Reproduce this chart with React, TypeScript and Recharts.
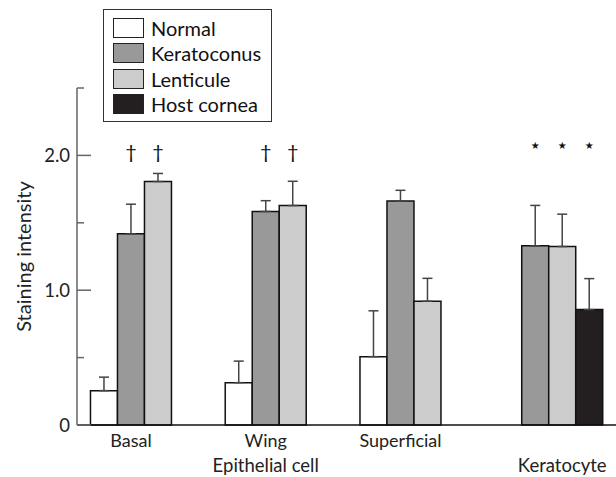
import React from 'react';
import { BarChart, Bar, XAxis, YAxis, ErrorBar, LabelList, Legend } from 'recharts';

// ---- data ----
const categories = ['Basal', 'Wing', 'Superficial', 'Keratocyte'];
const tickLabels = ['Basal', 'Wing', 'Superficial', ''];
const groupLabels = ['', 'Epithelial cell', '', 'Keratocyte'];

const normalValues = [0.255, 0.314, 0.507, null];
const normalErrors = [0.1, 0.16, 0.34, null];
const keratoconusValues = [1.418, 1.584, 1.661, 1.329];
const keratoconusErrors = [0.22, 0.08, 0.08, 0.3];
const lenticuleValues = [1.806, 1.628, 0.918, 1.324];
const lenticuleErrors = [0.06, 0.18, 0.17, 0.24];
const hostValues = [null, null, null, 0.856];
const hostErrors = [null, null, null, 0.23];

const normalMarks = ['', '', '', ''];
const keratoconusMarks = ['†', '†', '', '★'];
const lenticuleMarks = ['†', '†', '', '★'];
const hostMarks = ['', '', '', '★'];
const markLevels: Record<string, number> = { '†': 2.03, '★': 2.07 };

const yTicks = [0, 0.5, 1, 1.5, 2, 2.5];
const yTickLabels = ['0', '', '1.0', '', '2.0', ''];
const yLabel = 'Staining intensity';

// ---- series config ----
const series = [
  { key: 'normal', name: 'Normal', values: normalValues, errors: normalErrors, marks: normalMarks, fill: '#ffffff' },
  { key: 'keratoconus', name: 'Keratoconus', values: keratoconusValues, errors: keratoconusErrors, marks: keratoconusMarks, fill: '#999999' },
  { key: 'lenticule', name: 'Lenticule', values: lenticuleValues, errors: lenticuleErrors, marks: lenticuleMarks, fill: '#cccccc' },
  { key: 'host', name: 'Host cornea', values: hostValues, errors: hostErrors, marks: hostMarks, fill: '#231f20' },
];

const data = categories.map((c, i) => {
  const row: any = { category: c };
  series.forEach((s) => {
    row[s.key] = s.values[i];
    row[s.key + 'Err'] = s.errors[i] == null ? null : [0, s.errors[i]];
  });
  return row;
});

const FONT = "Lato, 'DejaVu Sans', sans-serif";

const makeLabelContent = (sIdx: number) => (props: any) => {
  const s = series[sIdx];
  const raw = props.value;
  let index = s.values.findIndex((v) => v != null && v === raw);
  if (index < 0) index = props.index;
  const vb = props.viewBox || props;
  const { x, y, width, height } = vb;
  if (x == null || index == null || index < 0) return null;
  const value = s.values[index];
  const cx = x + width / 2;
  const base = y + height;
  const els: any[] = [];
  if (value != null && value > 0) {
    const ppu = height / value;
    const mark = s.marks[index];
    if (mark) {
      const isStar = mark === '★';
      els.push(
        <text key="m" x={cx} y={base - markLevels[mark] * ppu} textAnchor="middle" dominantBaseline="central"
          fontSize={isStar ? 10 : 20} fontFamily={isStar ? "'DejaVu Sans', sans-serif" : FONT} fill="#111">
          {mark}
        </text>
      );
    }
  }
  const present = series.filter((t) => t.values[index] != null);
  const mid = present[Math.floor(present.length / 2)];
  if (mid && mid.key === s.key) {
    if (tickLabels[index]) {
      els.push(
        <text key="t" x={cx} y={base + 22} textAnchor="middle" fontSize={18} fontFamily={FONT} fill="#222">
          {tickLabels[index]}
        </text>
      );
    }
    if (groupLabels[index]) {
      els.push(
        <text key="g" x={cx} y={base + 47} textAnchor="middle" fontSize={18.5} fontFamily={FONT} fill="#222">
          {groupLabels[index]}
        </text>
      );
    }
  }
  return <g>{els}</g>;
};

const YTick = (props: any) => {
  const { x, y, payload } = props;
  const v = payload.value;
  const i = yTicks.indexOf(v);
  const label = i >= 0 ? yTickLabels[i] : '';
  const major = Number.isInteger(v);
  return (
    <g>
      <line x1={x} x2={x + (major ? 14 : 7)} y1={y} y2={y} stroke="#666" strokeWidth={1.5} />
      {label ? (
        <text x={x - 7} y={y} dy="0.36em" textAnchor="end" fontSize={18.5} fontFamily={FONT} fill="#222">
          {label}
        </text>
      ) : null}
    </g>
  );
};

const LegendBox = () => (
  <div
    style={{
      position: 'relative',
      width: 169,
      height: 113,
      border: '1.5px solid #333',
      boxSizing: 'border-box',
      background: '#fff',
      fontFamily: FONT,
      fontSize: 20,
      color: '#111',
    }}
  >
    {series.map((s, i) => (
      <div key={s.key} style={{ position: 'absolute', left: 9, top: 7.5 + i * 25.5, height: 20, display: 'flex', alignItems: 'center' }}>
        <div style={{ width: 31, height: 20, background: s.fill, border: '1.5px solid #222', boxSizing: 'border-box' }} />
        <span style={{ marginLeft: 7, lineHeight: '20px', whiteSpace: 'nowrap' }}>{s.name}</span>
      </div>
    ))}
  </div>
);

export default function App() {
  return (
    <div style={{ position: 'absolute', left: 0, top: 0, width: 616, height: 477, background: '#fff' }}>
      <BarChart
        width={616}
        height={477}
        data={data}
        margin={{ top: 88, right: 0, bottom: 22, left: 0 }}
        barGap={0}
        barCategoryGap="10%"
        style={{ fontFamily: FONT }}
      >
        <XAxis dataKey="category" tick={false} tickLine={false} axisLine={{ stroke: '#111', strokeWidth: 1.5 }} height={30} />
        <YAxis
          width={77}
          domain={[0, 2.5]}
          ticks={yTicks}
          interval={0}
          tickLine={false}
          tickSize={0}
          tickMargin={0}
          axisLine={{ stroke: '#666', strokeWidth: 1.5 }}
          tick={<YTick />}
          label={{
            value: yLabel,
            content: (p: any) => {
              const vb = p.viewBox || {};
              const cx = (vb.x || 0) + 23;
              const cy = (vb.y || 0) + (vb.height || 0) / 2;
              return (
                <text x={cx} y={cy} transform={`rotate(-90, ${cx}, ${cy})`} textAnchor="middle" dominantBaseline="central"
                  fontSize={20} fontFamily={FONT} fill="#222">
                  {yLabel}
                </text>
              );
            },
          }}
        />
        <Legend
          layout="vertical"
          align="center"
          verticalAlign="middle"
          content={<LegendBox />}
          wrapperStyle={{ left: 103, top: 9, width: 169, height: 113 }}
        />
        {series.map((s, i) => (
          <Bar key={s.key} dataKey={s.key} name={s.name} fill={s.fill} stroke="#111" strokeWidth={1.5} isAnimationActive={false}>
            <ErrorBar dataKey={s.key + 'Err'} direction="y" width={5} stroke="#444" strokeWidth={1.5} />
            <LabelList dataKey={s.key} content={makeLabelContent(i)} />
          </Bar>
        ))}
      </BarChart>
    </div>
  );
}
